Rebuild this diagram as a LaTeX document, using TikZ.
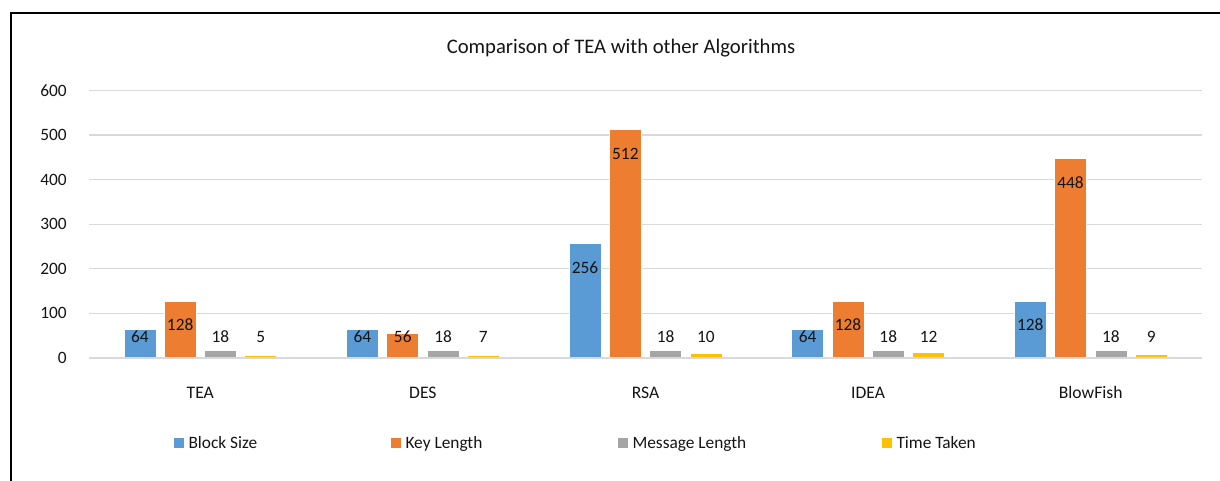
\documentclass[tikz,border=0pt]{standalone}
\usepackage{fontspec}
\setmainfont{Carlito}
\usetikzlibrary{positioning}
\definecolor{BarBlue}{RGB}{91,155,213}
\definecolor{BarOrange}{RGB}{237,125,49}
\definecolor{BarGray}{RGB}{165,165,165}
\definecolor{BarGold}{RGB}{255,192,0}
\definecolor{GridGray}{RGB}{217,217,217}
\definecolor{InkDark}{RGB}{20,20,20}
\tikzset{
  bar/.style={draw=white,line width=0.5pt},
  gridline/.style={draw=GridGray,line width=0.9pt},
  frameline/.style={draw=black,line width=1.3pt},
  ticklabel/.style={anchor=east,inner sep=0pt,text=InkDark,
    font=\fontsize{13}{15}\selectfont},
  vallabel/.style={inner sep=0pt,text=InkDark,font=\fontsize{13}{15}\selectfont},
  catlabel/.style={anchor=base,inner sep=0pt,text=InkDark,
    font=\fontsize{13.2}{15}\selectfont},
  titlelabel/.style={anchor=base,inner sep=0pt,text=InkDark,
    font=\fontsize{15.5}{18}\selectfont},
  legendkey/.style={minimum size=7.5pt,inner sep=0pt},
  legendtext/.style={inner sep=0pt,text height=10.5pt,text depth=2.1pt,
    text=InkDark,font=\fontsize{13}{15}\selectfont}
}
\begin{document}
\begin{tikzpicture}[x=0.75pt,y=0.75pt]
  \useasboundingbox (0,0) rectangle (1220,481);
  % outer frame (only left and top visible)
  \draw[frameline] (11,0) -- (11,468) -- (1220,468);
  % title
  \node[titlelabel] (title) at (621,427.7) {Comparison of TEA with other Algorithms};
  % value axis and grid
  \foreach \k/\lab in {0/0,1/100,2/200,3/300,4/400,5/500,6/600} {
    \draw[gridline] (89,{123+44.6*\k}) -- (1202,{123+44.6*\k});
    \node[ticklabel] (tick-\k) at (67,{123+44.6*\k}) {\lab};
  }
  % bars
  \foreach \alg/\bs/\kl/\ml/\tm [count=\i from 0] in
      {TEA/64/128/18/5,DES/64/56/18/7,RSA/256/512/18/10,
       IDEA/64/128/18/12,BlowFish/128/448/18/9} {
    \node[catlabel] (cat-\i) at ({200.3+222.6*\i},82.7) {\alg};
    \foreach \v/\c [count=\j from 0] in
        {\bs/BarBlue,\kl/BarOrange,\ml/BarGray,\tm/BarGold} {
      \pgfmathsetmacro\xc{200.3+222.6*\i+40.3*\j-60.45}
      \pgfmathsetmacro\ytop{123+0.446*\v}
      \pgfmathsetmacro\ylab{max(\ytop-24,144)}
      \filldraw[bar,fill=\c] ({\xc-16},123) rectangle ({\xc+16},\ytop);
      \node[vallabel] (val-\i-\j) at (\xc,\ylab) {\v};
    }
  }
  \draw[gridline] (89,123) -- (1202,123);
  % legend
  \node[legendkey,fill=BarBlue] (key-bs) at (179,38.3) {};
  \node[legendtext,right=3pt of key-bs] (lab-bs) {Block Size};
  \node[legendkey,fill=BarOrange] (key-kl) at (396,38.3) {};
  \node[legendtext,right=3pt of key-kl] (lab-kl) {Key Length};
  \node[legendkey,fill=BarGray] (key-ml) at (623,38.3) {};
  \node[legendtext,right=3pt of key-ml] (lab-ml) {Message Length};
  \node[legendkey,fill=BarGold] (key-tm) at (887,38.3) {};
  \node[legendtext,right=3pt of key-tm] (lab-tm) {Time Taken};
\end{tikzpicture}
\end{document}
